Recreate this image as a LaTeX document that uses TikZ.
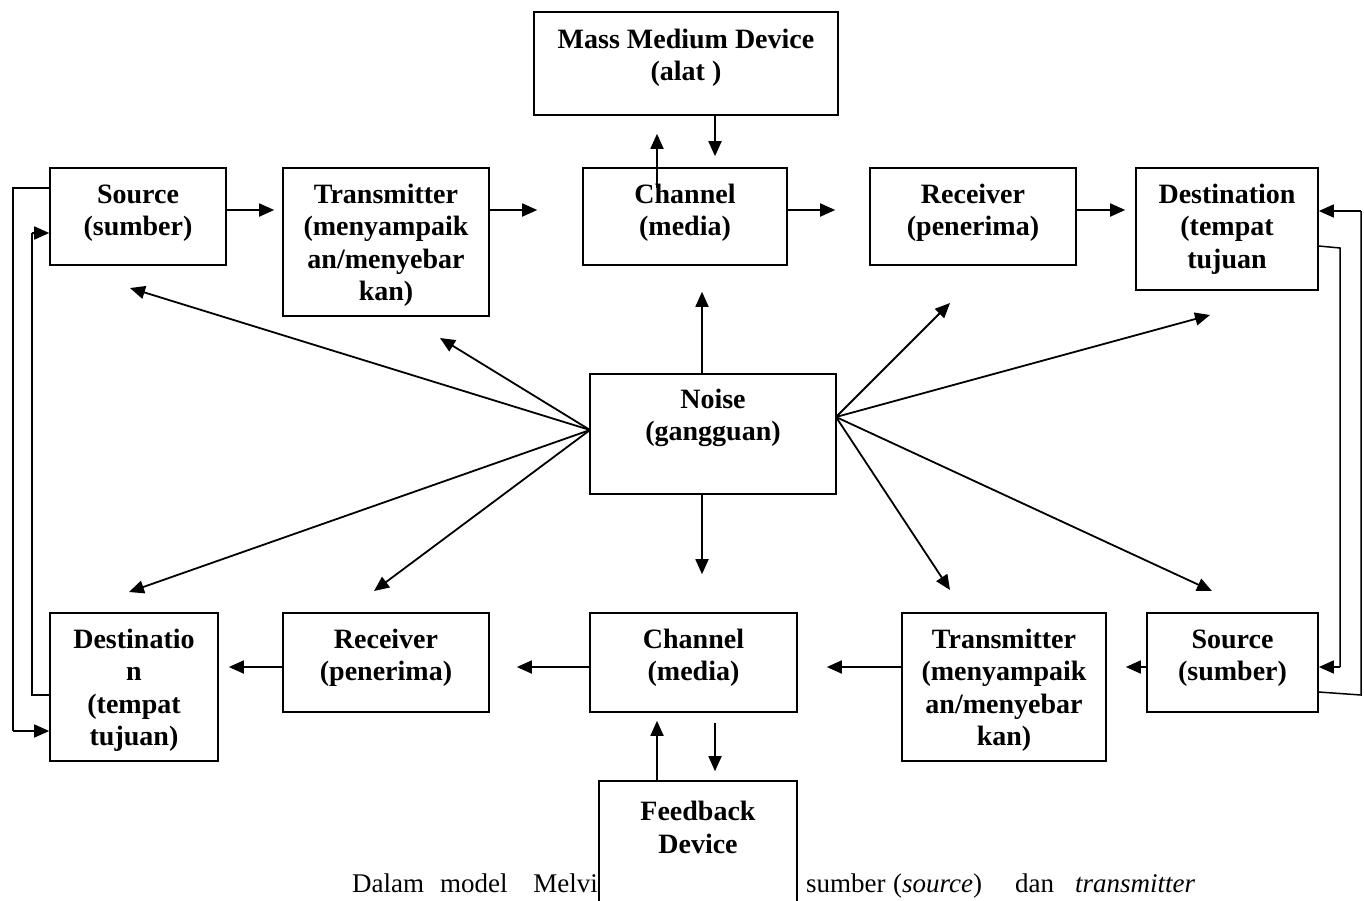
\documentclass[tikz,border=0pt]{standalone}
\usepackage{fontspec}
\setmainfont{Liberation Serif}
\usetikzlibrary{arrows.meta}
\begin{document}
\begin{tikzpicture}[x=1pt,y=-1pt,
  box/.style={draw, line width=1.6pt, inner sep=0pt, fill=white},
  lbl/.style={font=\fontsize{28}{32.5}\selectfont\bfseries, align=center, inner sep=0pt},
  arr/.style={line width=1.8pt, -{Triangle[length=15pt,width=13pt]}},
  fbloop/.style={line width=1.5pt},
  body/.style={font=\fontsize{27}{31}\selectfont, anchor=base west, inner sep=0pt}]
\useasboundingbox (0,0) rectangle (1364,900);
\fill[white] (0,0) rectangle (1364,900);

% boxes
\node[box, minimum width=304pt, minimum height=103pt] (mm) at (686,63.5) {};
\node[box, minimum width=176pt, minimum height=97pt] (src1) at (138,216.5) {};
\node[box, minimum width=206pt, minimum height=148pt] (tr1) at (386,242) {};
\node[box, minimum width=204pt, minimum height=97pt] (ch1) at (685,216.5) {};
\node[box, minimum width=206pt, minimum height=97pt] (rc1) at (973,216.5) {};
\node[box, minimum width=182pt, minimum height=122pt] (ds1) at (1227,229) {};
\node[box, minimum width=246pt, minimum height=120pt] (noise) at (713,434) {};
\node[box, minimum width=168pt, minimum height=148pt] (ds2) at (134,687) {};
\node[box, minimum width=206pt, minimum height=99pt] (rc2) at (386,662.5) {};
\node[box, minimum width=207pt, minimum height=99pt] (ch2) at (693.5,662.5) {};
\node[box, minimum width=204pt, minimum height=148pt] (tr2) at (1004,687) {};
\node[box, minimum width=171pt, minimum height=99pt] (sr2) at (1232.5,662.5) {};

% labels
\node[lbl] (mmt) at (686,58) {Mass Medium Device\\(alat )};
\node[lbl] (src1t) at (138,213) {Source\\(sumber)};
\node[lbl] (tr1t) at (386,245.5) {Transmitter\\(menyampaik\\an/menyebar\\kan)};
\node[lbl] (ch1t) at (685,213) {Channel\\(media)};
\node[lbl] (rc1t) at (973,213) {Receiver\\(penerima)};
\node[lbl] (ds1t) at (1227,229) {Destination\\(tempat\\tujuan};
\node[lbl] (noiset) at (713,418) {Noise\\(gangguan)};
\node[lbl] (ds2t) at (134,690.5) {Destinatio\\n\\(tempat\\tujuan)};
\node[lbl] (rc2t) at (386,658) {Receiver\\(penerima)};
\node[lbl] (ch2t) at (693.5,658) {Channel\\(media)};
\node[lbl] (tr2t) at (1004,690.5) {Transmitter\\(menyampaik\\an/menyebar\\kan)};
\node[lbl] (sr2t) at (1232.5,658) {Source\\(sumber)};

% helper coordinates
\coordinate (ytop) at (0,210);
\coordinate (ybot) at (0,667);
\coordinate (xa) at (657,0);
\coordinate (xb) at (715,0);
\coordinate (xn) at (702,0);

% top row arrows
\draw[arr, shorten >=8pt] (src1.east |- ytop) -- (tr1.west |- ytop);
\draw[arr, shorten >=45pt] (tr1.east |- ytop) -- (ch1.west |- ytop);
\draw[arr, shorten >=34pt] (ch1.east |- ytop) -- (rc1.west |- ytop);
\draw[arr, shorten >=10pt] (rc1.east |- ytop) -- (ds1.west |- ytop);

% bottom row arrows
\draw[arr, shorten >=19pt] (sr2.west |- ybot) -- (tr2.east |- ybot);
\draw[arr, shorten >=29pt] (tr2.west |- ybot) -- (ch2.east |- ybot);
\draw[arr, shorten >=27pt] (ch2.west |- ybot) -- (rc2.east |- ybot);
\draw[arr, shorten >=10pt] (rc2.west |- ybot) -- (ds2.east |- ybot);

% mass medium <-> channel
\coordinate (mmup) at (657,188);
\draw[arr, shorten >=18pt] (mmup) -- (mm.south -| xa);
\draw[arr, shorten >=11pt] (mm.south -| xb) -- (ch1.north -| xb);

% noise arrows
\draw[arr, shorten >=26pt] (noise.north -| xn) -- (ch1.south -| xn);
\draw[arr, shorten >=38pt] (noise.south -| xn) -- (ch2.north -| xn);
\coordinate (nl) at (590,430);
\coordinate (nr) at (836,417);
\coordinate (ta) at (130,288);
\coordinate (tb) at (440,338);
\coordinate (tc) at (129,592);
\coordinate (td) at (374,591);
\coordinate (te) at (950,303);
\coordinate (tf) at (1210,315);
\coordinate (tg) at (950,590);
\coordinate (th) at (1212,591);
\foreach \t in {ta,tb,tc,td} \draw[arr] (nl) -- (\t);
\foreach \t in {te,tf,tg,th} \draw[arr] (nr) -- (\t);

% left feedback loops
\coordinate (la) at (13,188);
\coordinate (lb) at (13,731);
\coordinate (lc) at (32,695);
\coordinate (ld) at (32,233);
\draw[fbloop] (src1.west |- la) -- (la) -- (lb);
\draw[arr, line width=1.5pt] (lb) -- (ds2.west |- lb);
\draw[fbloop] (ds2.west |- lc) -- (lc) -- (ld);
\draw[arr, line width=1.5pt] (ld) -- (src1.west |- ld);

% right feedback loops
\coordinate (ra) at (1361,695);
\coordinate (rb) at (1361,211);
\coordinate (rc) at (1340,248);
\coordinate (rd) at (1340,667);
\draw[fbloop] (sr2.east |- 0,692) -- (ra) -- (rb);
\draw[arr, line width=1.5pt] (rb) -- (ds1.east |- rb);
\draw[fbloop] (ds1.east |- 0,246) -- (rc) -- (rd);
\draw[arr, line width=1.5pt] (rd) -- (sr2.east |- rd);

% body text
\node[body] (w1) at (352,892) {Dalam};
\node[body] (w2) at (440,892) {model};
\node[body, anchor=base east] (w3) at (598,892) {Melvi};
\node[body] (w4) at (806,892) {sumber};
\node[body] (w5) at (893,892) {(\textit{source})};
\node[body] (w6) at (1015,892) {dan};
\node[body] (w7) at (1075,892) {\textit{transmitter}};

% feedback device
\node[box, minimum width=198pt, minimum height=134pt] (fb) at (698,848) {};
\node[lbl] (fbt) at (698,827.5) {Feedback\\Device};
\draw[arr, shorten >=8pt] (fb.north -| xa) -- (ch2.south -| xa);
\draw[arr, shorten <=10pt, shorten >=9pt] (ch2.south -| xb) -- (fb.north -| xb);
\end{tikzpicture}
\end{document}
